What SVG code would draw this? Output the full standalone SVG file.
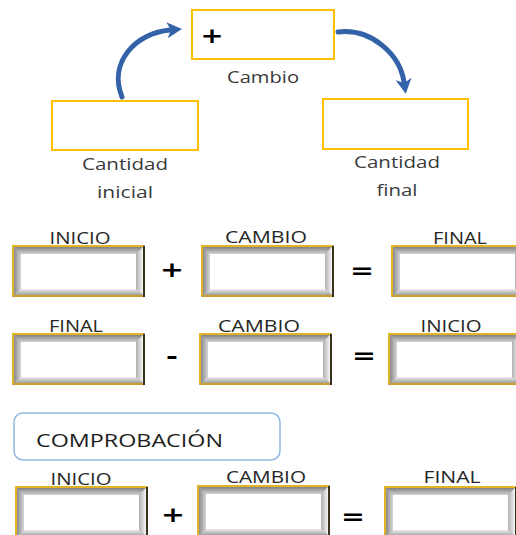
<svg xmlns="http://www.w3.org/2000/svg" xmlns:xlink="http://www.w3.org/1999/xlink" width="516" height="535" viewBox="0 0 516 535">
<style>
.gold{fill:#fff;stroke:#ffc000;stroke-width:2}
.lbl{font-family:"Open Sans","DejaVu Sans",sans-serif;fill:#3a3a3a;text-anchor:middle}
.cap{font-family:"Open Sans","DejaVu Sans",sans-serif;fill:#262626;text-anchor:middle;font-size:16px}
.op{font-family:"DejaVu Sans","Liberation Sans",sans-serif;font-weight:bold;fill:#000;text-anchor:middle}
.arr{fill:none;stroke:#3462a8;stroke-width:5;stroke-linecap:round}
</style>
<defs>
<marker id="head" markerUnits="userSpaceOnUse" markerWidth="16" markerHeight="18" refX="3" refY="9" orient="auto">
<path d="M0,1 L15,9 L0,17 L4,9 z" fill="#3462a8"/>
</marker>
<linearGradient id="gT" x1="0" y1="0" x2="0" y2="1"><stop offset="0" stop-color="#7c7c7c"/><stop offset="1" stop-color="#d2d2d2"/></linearGradient>
<linearGradient id="gL" x1="0" y1="0" x2="1" y2="0"><stop offset="0" stop-color="#858585"/><stop offset="1" stop-color="#d6d6d6"/></linearGradient>
<linearGradient id="gR" x1="0" y1="0" x2="1" y2="0"><stop offset="0" stop-color="#b0b0b0"/><stop offset="1" stop-color="#fafafa"/></linearGradient>
<linearGradient id="gB" x1="0" y1="0" x2="0" y2="1"><stop offset="0" stop-color="#ececec"/><stop offset="1" stop-color="#9a9a9a"/></linearGradient>
<g id="bevel">
<rect x="0" y="0" width="133" height="52" fill="#a8a8a8"/>
<polygon points="1.5,1.5 131.5,1.5 124,9 9,9" fill="url(#gT)"/>
<polygon points="1.5,1.5 9,9 9,44 1.5,50.5" fill="url(#gL)"/>
<polygon points="131.5,1.5 131.5,50.5 124,44 124,9" fill="url(#gR)"/>
<polygon points="1.5,50.5 131.5,50.5 124,44 9,44" fill="url(#gB)"/>
<rect x="9" y="9" width="115" height="35" fill="#fff"/>
<path d="M1,51 L1,1 L132,1" fill="none" stroke="#e3b326" stroke-width="2"/>
<path d="M1,51 L132,51" fill="none" stroke="#c9a030" stroke-width="2"/>
<path d="M132,1 L132,52" fill="none" stroke="#3a321c" stroke-width="2"/>
</g>
</defs>
<rect width="516" height="535" fill="#fff"/>

<g id="connectors">
<path class="arr" d="M122,97 C108,62 136,33 170,30" marker-end="url(#head)"/>
<path class="arr" d="M338,32 C372,28 400,55 404,82" marker-end="url(#head)"/>
</g>

<g id="cambio">
<rect class="gold" x="192" y="10" width="142" height="49"/>
<text class="op" transform="translate(212,43) scale(1.25,1)" font-size="22">+</text>
<text class="lbl" x="263" y="83" font-size="17" textLength="72" lengthAdjust="spacingAndGlyphs">Cambio</text>
</g>
<g id="cantidad-inicial">
<rect class="gold" x="52" y="101" width="146" height="49"/>
<text class="lbl" x="125" y="170" font-size="17" textLength="86" lengthAdjust="spacingAndGlyphs">Cantidad</text>
<text class="lbl" x="125" y="198" font-size="17" textLength="56" lengthAdjust="spacingAndGlyphs">inicial</text>
</g>
<g id="cantidad-final">
<rect class="gold" x="323" y="99" width="145" height="50"/>
<text class="lbl" x="397" y="168" font-size="17" textLength="86" lengthAdjust="spacingAndGlyphs">Cantidad</text>
<text class="lbl" x="397" y="196" font-size="17" textLength="41" lengthAdjust="spacingAndGlyphs">final</text>
</g>

<g id="row1-inicio">
<text class="cap" x="80" y="244" textLength="61" lengthAdjust="spacingAndGlyphs">INICIO</text>
<use xlink:href="#bevel" x="12" y="245"/>
</g>
<text class="op" transform="translate(172,277) scale(1.3,1)" font-size="22">+</text>
<g id="row1-cambio">
<text class="cap" x="266" y="243" textLength="82" lengthAdjust="spacingAndGlyphs">CAMBIO</text>
<use xlink:href="#bevel" x="201" y="245"/>
</g>
<text class="op" transform="translate(362,278) scale(1.3,1)" font-size="22">=</text>
<g id="row1-final">
<text class="cap" x="460" y="244" textLength="54" lengthAdjust="spacingAndGlyphs">FINAL</text>
<use xlink:href="#bevel" x="391" y="245"/>
</g>

<g id="row2-final">
<text class="cap" x="76" y="332" textLength="54" lengthAdjust="spacingAndGlyphs">FINAL</text>
<use xlink:href="#bevel" x="12" y="333"/>
</g>
<text class="op" transform="translate(172,364) scale(1.3,1)" font-size="22">-</text>
<g id="row2-cambio">
<text class="cap" x="259" y="332" textLength="82" lengthAdjust="spacingAndGlyphs">CAMBIO</text>
<use xlink:href="#bevel" x="199" y="333"/>
</g>
<text class="op" transform="translate(364,363) scale(1.3,1)" font-size="22">=</text>
<g id="row2-inicio">
<text class="cap" x="451" y="332" textLength="61" lengthAdjust="spacingAndGlyphs">INICIO</text>
<use xlink:href="#bevel" x="388" y="333"/>
</g>

<g id="comprobacion">
<rect x="14" y="413" width="266" height="47" rx="9" fill="#fff" stroke="#8fb9e3" stroke-width="1.5"/>
<text x="36" y="447" font-family="'Open Sans','DejaVu Sans',sans-serif" font-size="19" fill="#1e1e1e" textLength="187" lengthAdjust="spacingAndGlyphs">COMPROBACIÓN</text>
</g>

<g id="row3-inicio">
<text class="cap" x="81" y="485" textLength="61" lengthAdjust="spacingAndGlyphs">INICIO</text>
<use xlink:href="#bevel" x="15" y="486"/>
</g>
<text class="op" transform="translate(173,522) scale(1.3,1)" font-size="22">+</text>
<g id="row3-cambio">
<text class="cap" x="266" y="483" textLength="80" lengthAdjust="spacingAndGlyphs">CAMBIO</text>
<use xlink:href="#bevel" x="197" y="485"/>
</g>
<text class="op" transform="translate(353,524) scale(1.3,1)" font-size="22">=</text>
<g id="row3-final">
<text class="cap" x="452" y="483" textLength="57" lengthAdjust="spacingAndGlyphs">FINAL</text>
<use xlink:href="#bevel" x="384" y="486"/>
</g>
</svg>
